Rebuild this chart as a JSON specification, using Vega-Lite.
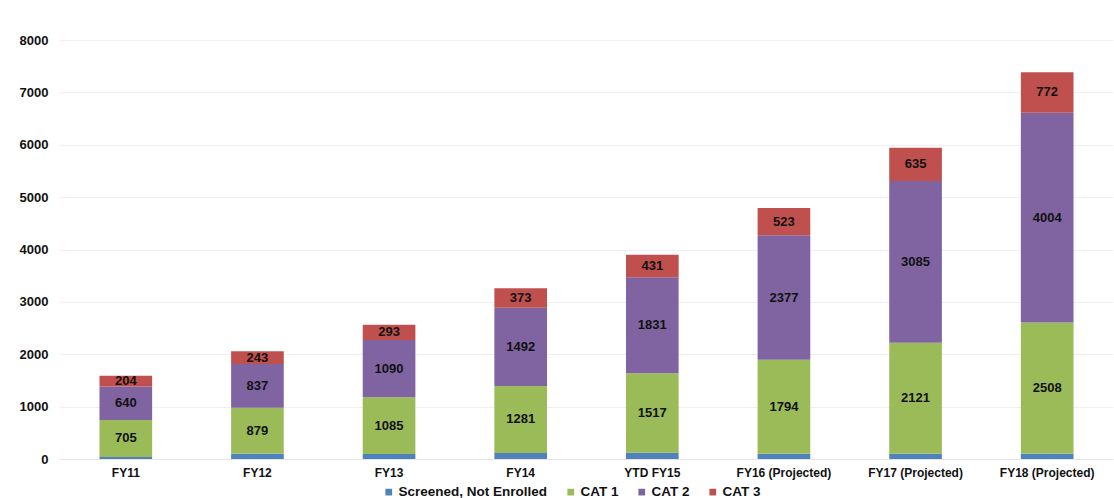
{
  "$schema": "https://vega.github.io/schema/vega-lite/v6.json",
  "width": 1053,
  "height": 419,
  "autosize": {"type": "none"},
  "padding": {"left": 60, "top": 40, "right": 1, "bottom": 39},
  "background": "white",
  "config": {
    "font": "Liberation Sans",
    "view": {"stroke": null}
  },
  "data": {
    "values": [
      {"year": "FY11", "cat": "Screened, Not Enrolled", "value": 40},
      {"year": "FY11", "cat": "CAT 1", "value": 705},
      {"year": "FY11", "cat": "CAT 2", "value": 640},
      {"year": "FY11", "cat": "CAT 3", "value": 204},
      {"year": "FY12", "cat": "Screened, Not Enrolled", "value": 100},
      {"year": "FY12", "cat": "CAT 1", "value": 879},
      {"year": "FY12", "cat": "CAT 2", "value": 837},
      {"year": "FY12", "cat": "CAT 3", "value": 243},
      {"year": "FY13", "cat": "Screened, Not Enrolled", "value": 95},
      {"year": "FY13", "cat": "CAT 1", "value": 1085},
      {"year": "FY13", "cat": "CAT 2", "value": 1090},
      {"year": "FY13", "cat": "CAT 3", "value": 293},
      {"year": "FY14", "cat": "Screened, Not Enrolled", "value": 115},
      {"year": "FY14", "cat": "CAT 1", "value": 1281},
      {"year": "FY14", "cat": "CAT 2", "value": 1492},
      {"year": "FY14", "cat": "CAT 3", "value": 373},
      {"year": "YTD FY15", "cat": "Screened, Not Enrolled", "value": 120},
      {"year": "YTD FY15", "cat": "CAT 1", "value": 1517},
      {"year": "YTD FY15", "cat": "CAT 2", "value": 1831},
      {"year": "YTD FY15", "cat": "CAT 3", "value": 431},
      {"year": "FY16 (Projected)", "cat": "Screened, Not Enrolled", "value": 100},
      {"year": "FY16 (Projected)", "cat": "CAT 1", "value": 1794},
      {"year": "FY16 (Projected)", "cat": "CAT 2", "value": 2377},
      {"year": "FY16 (Projected)", "cat": "CAT 3", "value": 523},
      {"year": "FY17 (Projected)", "cat": "Screened, Not Enrolled", "value": 100},
      {"year": "FY17 (Projected)", "cat": "CAT 1", "value": 2121},
      {"year": "FY17 (Projected)", "cat": "CAT 2", "value": 3085},
      {"year": "FY17 (Projected)", "cat": "CAT 3", "value": 635},
      {"year": "FY18 (Projected)", "cat": "Screened, Not Enrolled", "value": 100},
      {"year": "FY18 (Projected)", "cat": "CAT 1", "value": 2508},
      {"year": "FY18 (Projected)", "cat": "CAT 2", "value": 4004},
      {"year": "FY18 (Projected)", "cat": "CAT 3", "value": 772}
    ]
  },
  "transform": [
    {"window": [{"op": "row_number", "as": "k"}], "groupby": ["year"]}
  ],
  "encoding": {
    "x": {
      "field": "year",
      "type": "nominal",
      "sort": ["FY11", "FY12", "FY13", "FY14", "YTD FY15", "FY16 (Projected)", "FY17 (Projected)", "FY18 (Projected)"],
      "title": null,
      "scale": {"paddingInner": 0.6, "paddingOuter": 0.3},
      "axis": {
        "labelAngle": 0,
        "labelFontWeight": "bold",
        "labelFontSize": 12,
        "labelColor": "#111",
        "labelPadding": 8,
        "ticks": false,
        "domainColor": "#e4e4e4",
        "domainWidth": 1
      }
    }
  },
  "layer": [
    {
      "mark": {"type": "bar"},
      "encoding": {
        "y": {
          "field": "value",
          "type": "quantitative",
          "stack": "zero",
          "title": null,
          "scale": {"domain": [0, 8000], "nice": false},
          "axis": {
            "values": [0, 1000, 2000, 3000, 4000, 5000, 6000, 7000, 8000],
            "format": "d",
            "labelFontWeight": "bold",
            "labelFontSize": 13,
            "labelColor": "#111",
            "labelPadding": 12,
            "ticks": false,
            "domain": false,
            "gridColor": "#efefef",
            "gridWidth": 1
          }
        },
        "order": {"field": "k", "type": "quantitative"},
        "color": {
          "field": "cat",
          "type": "nominal",
          "sort": ["Screened, Not Enrolled", "CAT 1", "CAT 2", "CAT 3"],
          "scale": {
            "domain": ["Screened, Not Enrolled", "CAT 1", "CAT 2", "CAT 3"],
            "range": ["#4F81BD", "#9BBB59", "#8064A2", "#C0504D"]
          },
          "legend": {
            "title": null,
            "orient": "none",
            "direction": "horizontal",
            "legendX": 322,
            "legendY": 445,
            "symbolType": "square",
            "symbolSize": 45,
            "symbolStrokeWidth": 0,
            "labelFontWeight": "bold",
            "labelFontSize": 13.5,
            "labelColor": "#111",
            "labelOffset": 3,
            "columnPadding": 16
          }
        }
      }
    },
    {
      "transform": [
        {"stack": "value", "groupby": ["year"], "sort": [{"field": "k", "order": "ascending"}], "as": ["y0", "y1"]},
        {"filter": "datum.cat !== 'Screened, Not Enrolled'"},
        {"fold": ["y0", "y1"], "as": ["edge", "pos"]},
        {"aggregate": [
          {"op": "mean", "field": "pos", "as": "mid"},
          {"op": "max", "field": "value", "as": "label"}
        ], "groupby": ["year", "cat"]}
      ],
      "mark": {"type": "text", "fontWeight": "bold", "fontSize": 13, "baseline": "middle", "color": "#111"},
      "encoding": {
        "y": {"field": "mid", "type": "quantitative"},
        "text": {"field": "label", "type": "quantitative"}
      }
    }
  ]
}
